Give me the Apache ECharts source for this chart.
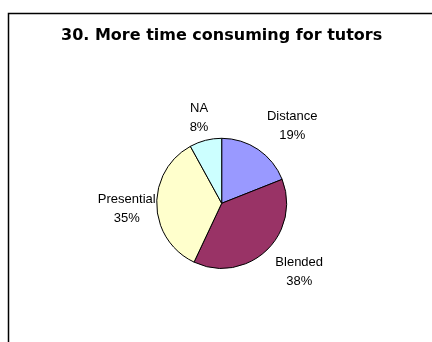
<!DOCTYPE html>
<html>
<head>
<meta charset="utf-8">
<script src="https://cdn.jsdelivr.net/npm/echarts@6/dist/echarts.min.js"></script>
<style>
html,body{margin:0;padding:0;background:#fff;}
#chart{width:432px;height:342px;}
</style>
</head>
<body>
<div id="chart"></div>
<script>
// Data
const titleText = '30. More time consuming for tutors';
const categories = ['Distance', 'Blended', 'Presential', 'NA'];
const percentValues = [19, 38, 35, 8];
const sliceColors = ['#9999FF', '#993366', '#FFFFCC', '#CCFFFF'];
// label offsets from the slice's outer-edge midpoint (style only)
const labelOffsets = [[34, -23.5], [33, 21.5], [-30, 3.4], [-6.5, -22.8]];

const chart = echarts.init(document.getElementById('chart'), null, {renderer: 'canvas'});

const option = {
  animation: false,
  backgroundColor: '#ffffff',
  title: {
    text: titleText,
    left: 61,
    top: 28,
    padding: 0,
    textStyle: {
      fontFamily: 'DejaVu Sans',
      fontWeight: 'bold',
      fontSize: 16,
      color: '#000000'
    }
  },
  graphic: [{
    type: 'polyline',
    silent: true,
    shape: {points: [[8.5, 342], [8.5, 13.5], [432, 13.5]]},
    style: {stroke: '#000000', lineWidth: 1.5, fill: null}
  }],
  series: [{
    type: 'pie',
    center: [221.7, 203.3],
    radius: 65,
    startAngle: 90,
    clockwise: true,
    avoidLabelOverlap: false,
    silent: true,
    itemStyle: {borderColor: '#000000', borderWidth: 1},
    label: {
      show: true,
      position: 'outside',
      fontFamily: 'Liberation Sans',
      fontSize: 13,
      lineHeight: 19,
      color: '#000000',
      formatter: function (p) { return p.name + '\n' + Math.round(p.percent) + '%'; }
    },
    labelLine: {show: false},
    labelLayout: function (p) {
      const lay = chart.getModel().getSeriesByIndex(0).getData().getItemLayout(p.dataIndex);
      const mid = (lay.startAngle + lay.endAngle) / 2;
      const ex = lay.cx + lay.r * Math.cos(mid);
      const ey = lay.cy + lay.r * Math.sin(mid);
      const o = labelOffsets[p.dataIndex];
      return {x: ex + o[0], y: ey + o[1], align: 'center', verticalAlign: 'middle'};
    },
    emphasis: {disabled: true},
    data: categories.map(function (c, i) {
      return {name: c, value: percentValues[i], itemStyle: {color: sliceColors[i]}};
    })
  }]
};
chart.setOption(option);
</script>
</body>
</html>
